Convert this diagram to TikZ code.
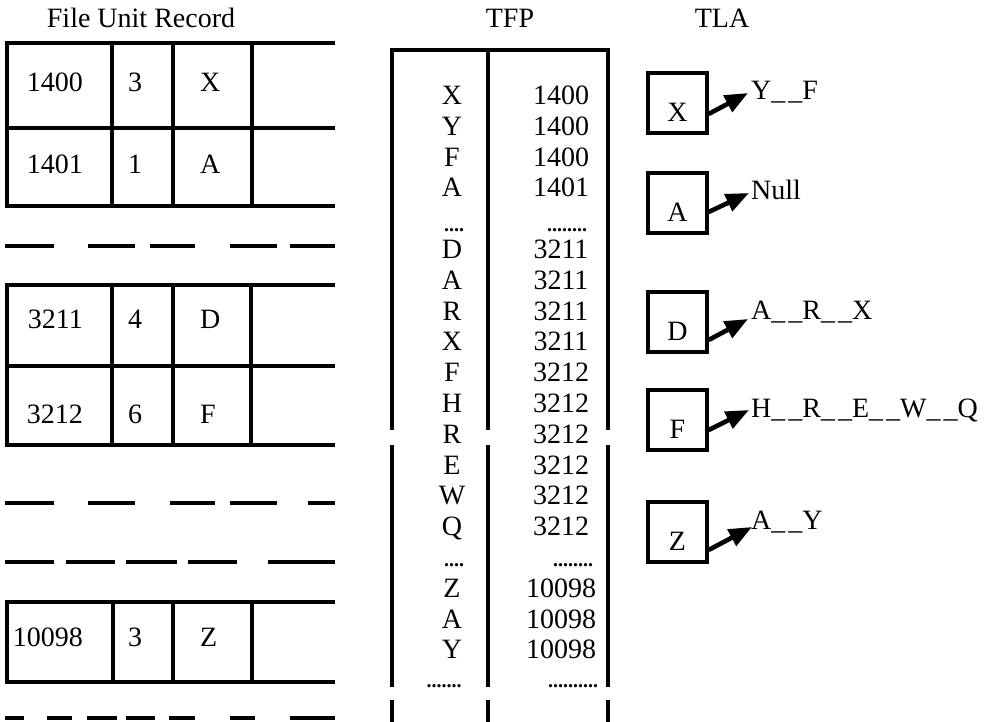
\documentclass[tikz,border=0pt]{standalone}
\usepackage{fontspec}
\setmainfont{Liberation Serif}
\usetikzlibrary{arrows.meta,calc}

\newcommand{\link}{\_\kern3pt\_}

\tikzset{
  rule/.style={line width=3.2pt, line cap=rect},
  cell/.style={anchor=base, inner sep=0pt},
  dotrow/.style={font=\fontsize{20}{24}\selectfont\bfseries},
  tlabox/.style={draw, line width=3.2pt, minimum width=59pt, minimum height=60pt,
    inner sep=0pt, text height=37pt, text depth=0pt},
  pointer/.style={line width=4.6pt, -{Triangle[length=23pt,width=18pt]}},
}

\begin{document}
\begin{tikzpicture}[x=1pt, y=-1pt, font=\fontsize{28}{33}\selectfont]
        \useasboundingbox (0,0) rectangle (1007,722);

        % Titles
        \node[cell] (furtitle) at (141,28) {File Unit Record};
        \node[cell] (tfptitle) at (510,28) {TFP};
        \node[cell] (tlatitle) at (722,28) {TLA};

        % File unit record blocks
        \draw[rule] (7,43) -- (333,43) (7,128) -- (333,128) (7,206) -- (333,206);
        \foreach \x in {7,112,173,252} \draw[rule] (\x,43) -- (\x,206);
        \draw[rule] (7,285) -- (333,285) (7,366) -- (333,366) (7,445) -- (333,445);
        \foreach \x in {7,112,173,251} \draw[rule] (\x,285) -- (\x,445);
        \draw[rule] (7,602) -- (333,602) (7,682) -- (333,682);
        \foreach \x in {7,113,173,252} \draw[rule] (\x,602) -- (\x,682);

        % Broken lines between the blocks
        \foreach \a/\b in {7/52, 90/133, 152/193, 232/275, 292/333} \draw[rule] (\a,246) -- (\b,246);
        \foreach \a/\b in {7/52, 90/133, 172/213, 232/275, 310/333} \draw[rule] (\a,503) -- (\b,503);
        \foreach \a/\b in {7/52, 68/113, 128/175, 190/235, 270/333} \draw[rule] (\a,562) -- (\b,562);
        \foreach \a/\b in {7/22, 49/70, 89/115, 128/153, 171/193, 232/253, 292/333} \draw[rule] (\a,718) -- (\b,718);

        % Record fields
        \foreach \y/\n/\num/\cnt/\key in {91.5/a/1400/3/X, 173.5/b/1401/1/A, 328.5/c/3211/4/D,
                                          423.5/d/3212/6/F, 646.5/e/10098/3/Z} {
            \node[cell, anchor=base east] (num\n) at (83,\y) {\num};
            \node[cell] (cnt\n) at (135,\y) {\cnt};
            \node[cell, anchor=base west] (key\n) at (200,\y) {\key};
        }

        % TFP table
        \draw[rule] (392,50) -- (608,50);
        \foreach \x in {392,488,608} \draw[rule] (\x,50) -- (\x,428) (\x,447) -- (\x,685) (\x,702) -- (\x,730);
        \foreach \i/\k/\n in {0/X/1400, 1/Y/1400, 2/F/1400, 3/A/1401, 5/D/3211, 6/A/3211, 7/R/3211,
                              8/X/3211, 9/F/3212, 10/H/3212, 11/R/3212, 12/E/3212, 13/W/3212,
                              14/Q/3212, 16/Z/10098, 17/A/10098, 18/Y/10098} {
            \node[cell] (tfpk\i) at (452,104.5+30.8*\i) {\k};
            \node[cell] (tfpn\i) at (561,104.5+30.8*\i) {\n};
        }
        \node[cell, dotrow] (tfpk4) at (454,232) {....};
        \node[cell, dotrow] (tfpn4) at (567,232) {........};
        \node[cell, dotrow] (tfpk15) at (454,566) {....};
        \node[cell, dotrow] (tfpn15) at (573,566) {........};
        \node[cell, dotrow] (tfpk19) at (444,687) {.......};
        \node[cell, dotrow] (tfpn19) at (573,687) {..........};

        % TLA lists
        \foreach \n/\y/\txt/\s/\ex/\ey in {X/103/{Y\link F}/11/-3/-7, A/203/{Null}/9/-2/-7,
                                           D/322/{A\link R\link X}/18/-3/0, F/420/{H\link R\link E\link W\link Q}/10/-2/-7,
                                           Z/532/{A\link Y}/18/1/-2} {
            \node[tlabox] (tla\n) at (677.5,\y) {\n};
            \node[cell, anchor=base west] (chain\n) at (751,\y-3) {\txt};
            \draw[pointer] ([yshift=-\s pt]tla\n.east) -- ($(chain\n.base west)+(\ex,\ey)$);
        }
\end{tikzpicture}
\end{document}
